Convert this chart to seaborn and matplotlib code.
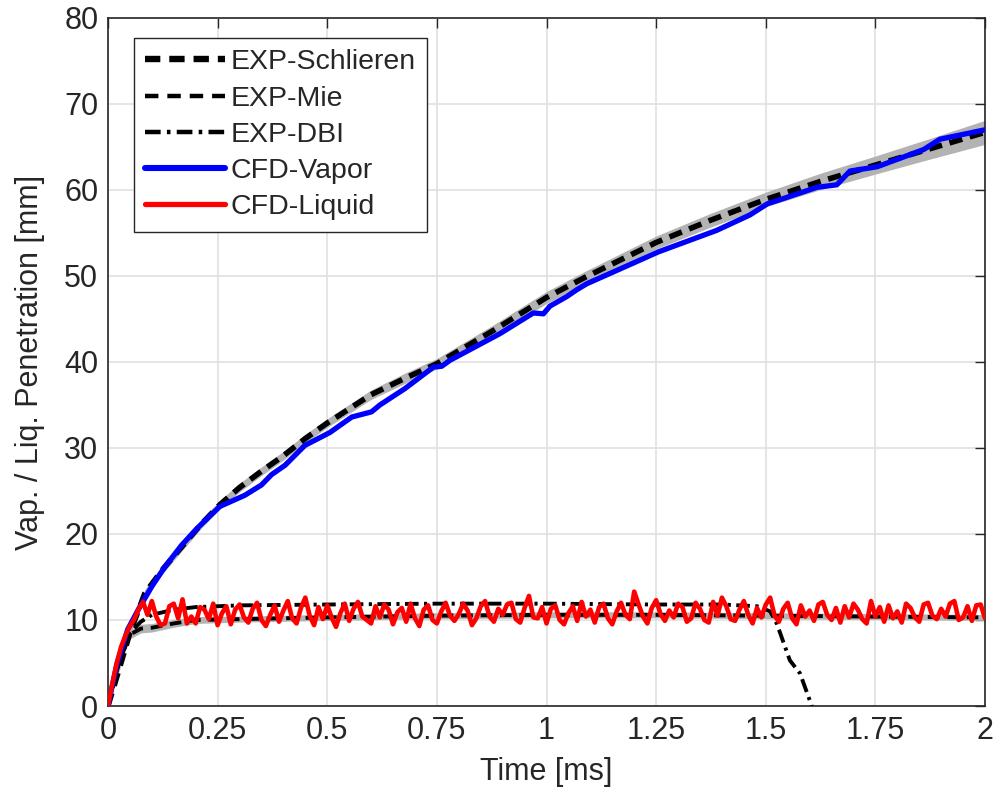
import numpy as np
import pandas as pd
import matplotlib
matplotlib.use("Agg")
import matplotlib.pyplot as plt
import seaborn as sns

# --- data ---
# experimental vapor penetration (Schlieren) and its spread
schl_t = [0, 0.025, 0.05, 0.084, 0.125, 0.168, 0.21, 0.255, 0.3, 0.35, 0.4, 0.45, 0.5,
          0.6, 0.677, 0.75, 0.88, 1.0, 1.09, 1.25, 1.375, 1.5, 1.625, 1.75, 1.875, 2.0]
schl_v = [0, 4.2, 8.5, 13.1, 15.9, 18.5, 21.0, 23.4, 25.4, 27.3, 29.1, 31.1, 32.9,
          36.2, 38.1, 39.8, 43.7, 47.5, 49.9, 53.9, 56.5, 58.9, 61.0, 62.9, 64.8, 66.7]
schl_sd = [0, 0.2, 0.3, 0.45, 0.5, 0.5, 0.5, 0.5, 0.5, 0.5, 0.5, 0.5, 0.5,
           0.55, 0.6, 0.6, 0.65, 0.7, 0.7, 0.75, 0.8, 0.85, 0.95, 1.05, 1.2, 1.4]

# experimental liquid length (Mie, DBI)
mie_t = [0, 0.025, 0.05, 0.075, 0.1, 0.15, 0.2, 0.3, 0.5, 0.75, 1.0, 1.25, 1.5, 1.75, 2.0]
mie_v = [0, 5.0, 8.3, 9.0, 9.1, 9.6, 10.0, 10.1, 10.3, 10.5, 10.6, 10.6, 10.5, 10.4, 10.3]
mie_sd = [0, 0.3, 0.5, 0.5, 0.5, 0.45, 0.4, 0.35, 0.35, 0.35, 0.35, 0.35, 0.35, 0.35, 0.35]

dbi_t = [0, 0.025, 0.05, 0.075, 0.1, 0.15, 0.2, 0.3, 0.5, 0.75, 1.0, 1.25, 1.4,
         1.48, 1.51, 1.525, 1.555, 1.578, 1.6, 1.605]
dbi_v = [0, 5.0, 8.5, 9.8, 10.6, 11.2, 11.5, 11.7, 11.8, 11.9, 11.9, 11.8, 11.8,
         11.6, 11.0, 9.6, 5.3, 3.8, 0.7, 0.0]

# CFD vapor penetration
vap_t = [0, 0.02, 0.045, 0.069, 0.1, 0.13, 0.168, 0.206, 0.255, 0.312, 0.35, 0.373, 0.404,
         0.449, 0.506, 0.556, 0.601, 0.62, 0.677, 0.742, 0.761, 0.78, 0.894, 0.97, 0.993,
         1.008, 1.046, 1.069, 1.092, 1.198, 1.255, 1.388, 1.464, 1.504, 1.54, 1.616,
         1.662, 1.692, 1.754, 1.86, 1.897, 2.0]
vap_v = [0, 4.8, 8.9, 11.2, 13.9, 16.2, 18.7, 20.8, 23.2, 24.5, 25.7, 26.9, 28.0,
         30.3, 31.8, 33.6, 34.2, 35.0, 36.9, 39.4, 39.5, 40.2, 43.3, 45.7, 45.6,
         46.5, 47.6, 48.4, 49.1, 51.5, 52.8, 55.3, 57.1, 58.4, 59.0, 60.3,
         60.6, 62.2, 62.7, 64.7, 65.9, 67.0]

# CFD liquid length, every 0.01 ms
liq_t = [round(0.01 * i, 2) for i in range(201)]
liq_v = [0.0, 2.6, 5.0, 6.9, 8.2, 9.3, 10.1, 11.3, 12.1, 10.6,
         12.2, 10.4, 9.4, 9.6, 11.6, 11.9, 10.2, 12.4, 9.6, 10.4,
         9.6, 11.5, 11.2, 10.1, 11.9, 9.4, 10.8, 11.6, 9.5, 11.2,
         11.8, 10.3, 9.7, 11.3, 12.0, 10.0, 9.3, 10.6, 11.7, 9.8,
         11.1, 12.2, 10.2, 9.6, 11.4, 12.6, 10.5, 9.4, 11.5, 10.1,
         11.7, 10.3, 9.2, 10.8, 11.9, 9.9, 11.3, 12.1, 10.4, 10.0,
         9.6, 11.6, 10.3, 11.8, 11.2, 9.5, 10.9, 11.4, 9.8, 11.9,
         10.2, 9.3, 11.2, 11.7, 10.0, 9.6, 11.0, 12.0, 10.5, 9.9,
         10.7, 11.9, 11.1, 9.4, 10.2, 11.6, 12.2, 10.4, 9.8, 11.3,
         10.6, 11.8, 12.0, 10.1, 9.7, 11.4, 12.8, 10.3, 10.2, 11.5,
         9.6, 11.3, 11.7, 10.0, 9.5, 10.8, 11.6, 9.9, 12.1, 10.4,
         11.2, 9.7, 11.5, 11.9, 10.2, 9.5, 11.0, 12.0, 10.6, 10.1,
         13.3, 11.8, 10.4, 9.6, 11.4, 12.3, 10.7, 9.9, 11.1, 10.3,
         11.9, 11.5, 9.8, 10.2, 12.0, 11.3, 10.0, 9.7, 12.1, 10.5,
         12.6, 11.6, 10.1, 9.9, 11.2, 12.2, 10.6, 9.6, 11.4, 10.3,
         11.8, 12.6, 10.5, 9.8, 11.3, 12.0, 10.2, 9.5, 11.7, 10.4,
         11.1, 9.9, 11.8, 12.1, 10.6, 10.0, 11.4, 9.7, 11.6, 10.3,
         11.9, 11.2, 10.1, 9.6, 12.2, 10.4, 11.5, 9.8, 11.7, 10.2,
         11.0, 9.7, 11.9, 11.4, 10.3, 9.8, 11.8, 12.0, 10.5, 10.1,
         11.3, 10.4, 11.9, 12.2, 10.0, 10.3, 11.6, 9.9, 11.7, 11.8,
         10.2]

x_ticks = [0, 0.25, 0.5, 0.75, 1, 1.25, 1.5, 1.75, 2]
x_tick_labels = ["0", "0.25", "0.5", "0.75", "1", "1.25", "1.5", "1.75", "2"]
y_ticks = [0, 10, 20, 30, 40, 50, 60, 70, 80]

sns.set_theme(style="whitegrid")
plt.rcParams["font.family"] = ["Liberation Sans", "DejaVu Sans"]
plt.rcParams["font.size"] = 22

fig = plt.figure(figsize=(9.97, 8.02), dpi=100)
ax = fig.add_axes([0.1083, 0.1197, 0.8797, 0.8579])

band_col = "#b3b3b3"
schl = np.array(schl_v)
sd = np.array(schl_sd)
ax.fill_between(schl_t, schl - sd, schl + sd, color=band_col, lw=0, zorder=1)
mie = np.array(mie_v)
msd = np.array(mie_sd)
ax.fill_between(mie_t, mie - msd, mie + msd, color=band_col, lw=0, zorder=1)

sns.lineplot(x=schl_t, y=schl_v, ax=ax, color="black", lw=4,
             zorder=3, label="EXP-Schlieren")
ax.lines[-1].set_dashes((2.4, 1.4))
sns.lineplot(x=mie_t, y=mie_v, ax=ax, color="black", lw=2.8, zorder=3, label="EXP-Mie")
ax.lines[-1].set_dashes((3.0, 2.0))
sns.lineplot(x=dbi_t, y=dbi_v, ax=ax, color="black", lw=2.8, zorder=3,
             sort=False, label="EXP-DBI")
ax.lines[-1].set_dashes((3.5, 1.4, 0.8, 1.4))
sns.lineplot(x=vap_t, y=vap_v, ax=ax, color="#0000ff", lw=3.8, zorder=4, label="CFD-Vapor")
sns.lineplot(x=liq_t, y=liq_v, ax=ax, color="#ff0000", lw=3.3, zorder=5, label="CFD-Liquid")

ax.set_xlim(0, 2)
ax.set_ylim(0, 80)
ax.set_xticks(x_ticks)
ax.set_xticklabels(x_tick_labels)
ax.set_yticks(y_ticks)
ax.set_xlabel("Time [ms]", fontsize=22, labelpad=8)
ax.set_ylabel("Vap. / Liq. Penetration [mm]", fontsize=22, labelpad=14)
ax.tick_params(axis="both", which="both", direction="in", length=7, width=1,
               colors="#262626", labelsize=22, top=True, right=True, pad=7)
ax.grid(True, color="#e0e0e0", lw=1.2)
ax.set_axisbelow(True)
for s in ax.spines.values():
    s.set_color("#262626")
    s.set_linewidth(1.2)
ax.set_facecolor("white")

leg = ax.legend(loc="upper left", bbox_to_anchor=(0.0296, 0.971), borderaxespad=0,
                fontsize=20.5, handlelength=2.8, handletextpad=0.2, labelspacing=0.36,
                borderpad=0.4, fancybox=False, framealpha=1, edgecolor="#262626")
leg.get_frame().set_linewidth(1.0)
for h in leg.get_lines():
    h.set_linewidth(h.get_linewidth() * 1.15)

fig.savefig("out.png", dpi=100, facecolor="white")
